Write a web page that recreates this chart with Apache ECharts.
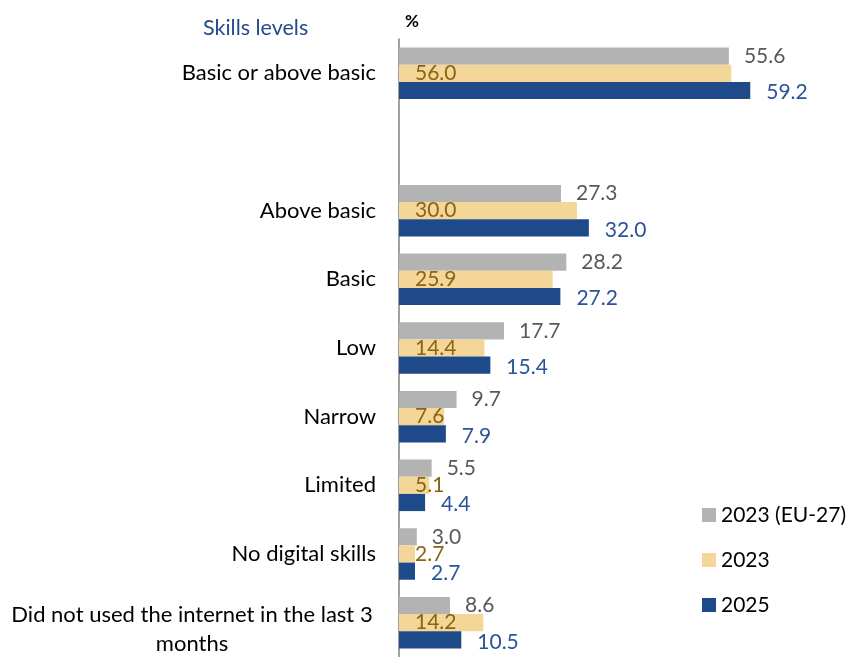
<!DOCTYPE html>
<html>
<head>
<meta charset="utf-8">
<script src="https://cdn.jsdelivr.net/npm/echarts@6/dist/echarts.min.js"></script>
<style>
  html, body { margin: 0; padding: 0; background: #fff; }
  #chart { width: 850px; height: 657px; }
</style>
</head>
<body>
<div id="chart"></div>
<script>
// Skill level categories (blank entry leaves a gap under the summary row)
var categories = [
  'Basic or above basic',
  '',
  'Above basic',
  'Basic',
  'Low',
  'Narrow',
  'Limited',
  'No digital skills',
  'Did not used the internet in the last 3 months'
];
var seriesNames = ['2023 (EU-27)', '2023', '2025'];
var valuesEU2023 = [55.6, null, 27.3, 28.2, 17.7, 9.7, 5.5, 3.0, 8.6];
var values2023   = [56.0, null, 30.0, 25.9, 14.4, 7.6, 5.1, 2.7, 14.2];
var values2025   = [59.2, null, 32.0, 27.2, 15.4, 7.9, 4.4, 2.7, 10.5];

var FONT = 'Lato, "Open Sans", sans-serif';
var chart = echarts.init(document.getElementById('chart'), null, { renderer: 'canvas' });

function fmt(p) { return p.value == null ? '' : Number(p.value).toFixed(1); }

// Long category wraps onto two centred lines
function catLabel(v) {
  if (v === 'Did not used the internet in the last 3 months') {
    return '{w|Did not used the internet in the last 3}\n{w|months}';
  }
  return v;
}

var option = {
  animation: false,
  backgroundColor: '#ffffff',
  title: [
    {
      text: 'Skills levels',
      left: 198, top: 12,
      textStyle: { fontFamily: FONT, fontSize: 21.5, fontWeight: 'normal', color: '#244B8C' }
    },
    {
      text: '%',
      left: 400, top: 8,
      textStyle: { fontFamily: FONT, fontSize: 17, fontWeight: 'bold', color: '#000' }
    }
  ],
  legend: {
    orient: 'vertical',
    left: 697, top: 499,
    itemWidth: 14, itemHeight: 14,
    itemGap: 23,
    icon: 'rect',
    textStyle: { fontFamily: FONT, fontSize: 21, color: '#000', lineHeight: 22 },
    data: seriesNames
  },
  grid: { left: 399, top: 39, width: 356, height: 625, containLabel: false },
  xAxis: {
    type: 'value', min: 0, max: 60,
    show: false
  },
  yAxis: {
    type: 'category',
    inverse: true,
    data: categories,
    axisLine: { show: true, lineStyle: { color: '#808080', width: 1.5 } },
    axisTick: { show: false },
    axisLabel: {
      margin: 23,
      fontFamily: FONT, fontSize: 22, color: '#000',
      formatter: catLabel,
      rich: {
        w: { width: 368, align: 'center', fontFamily: FONT, fontSize: 22, color: '#000',
             lineHeight: 29, padding: [14, 0, 0, 0] }
      }
    }
  },
  series: [
    {
      name: seriesNames[0], type: 'bar', data: valuesEU2023,
      barGap: '0%', barCategoryGap: '25%',
      itemStyle: { color: '#B3B3B3' },
      label: { show: true, position: 'right', distance: 15, formatter: fmt,
        fontFamily: FONT, fontSize: 21, color: '#595959' }
    },
    {
      name: seriesNames[1], type: 'bar', data: values2023,
      barGap: '0%', barCategoryGap: '25%',
      itemStyle: { color: '#F3D698' },
      label: { show: true, position: 'insideLeft', distance: 16, formatter: fmt,
        fontFamily: FONT, fontSize: 21, color: '#8A6411' }
    },
    {
      name: seriesNames[2], type: 'bar', data: values2025,
      barGap: '0%', barCategoryGap: '25%',
      itemStyle: { color: '#1F4A8A' },
      label: { show: true, position: 'right', distance: 16, offset: [0, 2], formatter: fmt,
        fontFamily: FONT, fontSize: 21, color: '#2A539A' }
    }
  ]
};
chart.setOption(option);
</script>
</body>
</html>
